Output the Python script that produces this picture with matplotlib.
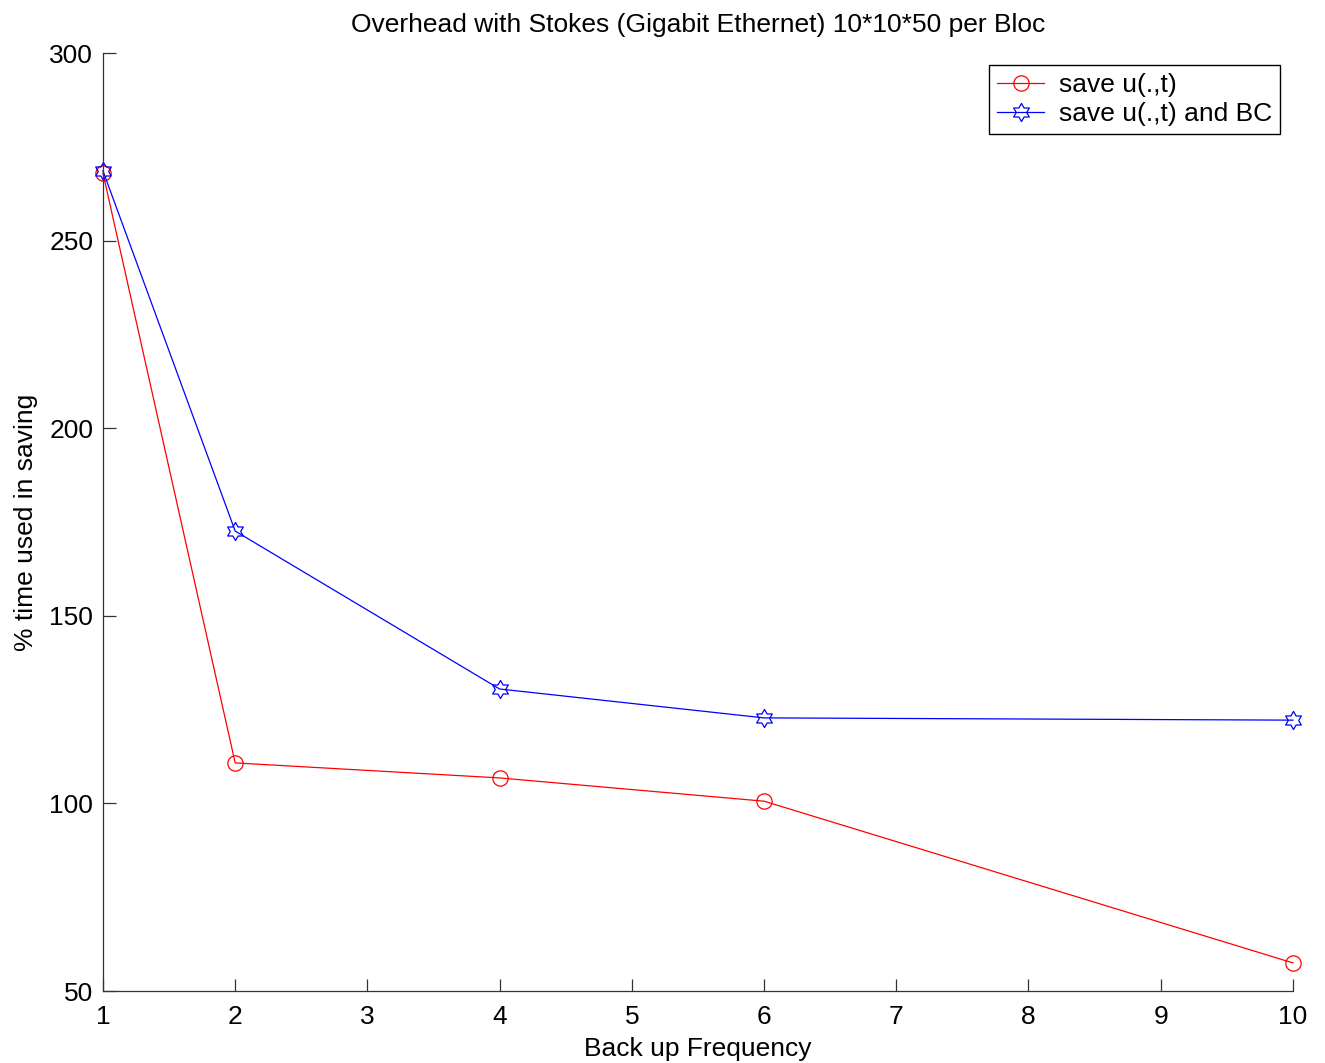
import matplotlib.pyplot as plt
import numpy as np
from matplotlib.path import Path

plt.rcParams['font.family'] = ['Liberation Sans', 'DejaVu Sans']

freq = [1, 2, 4, 6, 10]
save_u = [268.0, 110.8, 106.8, 100.6, 57.5]
save_u_bc = [268.6, 172.6, 130.5, 122.8, 122.2]

# six-pointed star marker (hexagram), like matlab's 'h'
ang = np.deg2rad(90 + 30 * np.arange(12))
rad = np.where(np.arange(12) % 2 == 0, 1.0, 0.577)
verts = np.column_stack([rad * np.cos(ang), rad * np.sin(ang)])
verts = np.vstack([verts, verts[:1]])
hexagram = Path(verts, closed=True)

fig = plt.figure(figsize=(13.25, 10.63), dpi=100)
ax = fig.add_axes([0.0777, 0.0677, 0.8981, 0.8824])

ax.plot(freq, save_u, color='red', lw=0.9, marker='o', ms=11,
        mfc='none', mec='red', mew=0.9, label='save u(.,t)', clip_on=False)
ax.plot(freq, save_u_bc, color='blue', lw=0.9, marker=hexagram, ms=13,
        mfc='none', mec='blue', mew=0.9, label='save u(.,t) and BC', clip_on=False)

ax.set_xlim(1, 10)
ax.set_ylim(50, 300)
ax.set_xticks(range(1, 11))
ax.set_yticks(range(50, 301, 50))
ax.tick_params(direction='in', length=9, width=0.9, labelsize=19, color='#333333')
ax.tick_params(axis='x', pad=10)
ax.tick_params(axis='y', pad=7)
for s in ['top', 'right']:
    ax.spines[s].set_visible(False)
for s in ['left', 'bottom']:
    ax.spines[s].set_color('#333333')
    ax.spines[s].set_linewidth(0.9)

ax.set_title('Overhead with Stokes (Gigabit Ethernet) 10*10*50 per Bloc', fontsize=19, pad=15)
ax.set_xlabel('Back up Frequency', fontsize=19, labelpad=6)
ax.set_ylabel('% time used in saving', fontsize=19, labelpad=8)

leg = ax.legend(loc='upper right', fontsize=19, fancybox=False, framealpha=1,
                edgecolor='black', borderpad=0.3, handlelength=1.8, labelspacing=0.18,
                handletextpad=0.55, borderaxespad=0, bbox_to_anchor=(0.989, 0.987))
leg.get_frame().set_linewidth(1.0)

fig.savefig('out.png', dpi=100)
